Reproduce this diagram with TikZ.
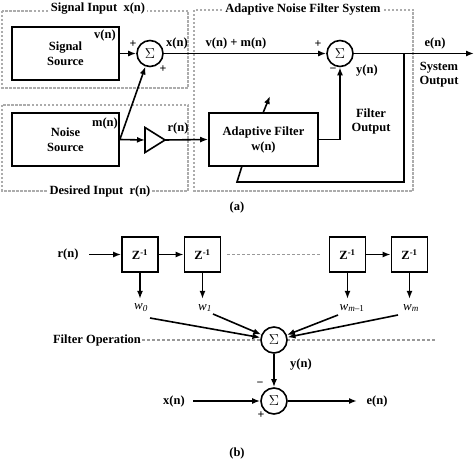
\documentclass[tikz,border=0pt]{standalone}
\usepackage{fontspec}
\setmainfont{Liberation Serif}
\usetikzlibrary{arrows.meta}
\begin{document}
\begin{tikzpicture}[x=1pt,y=-1pt,
  lbl/.style={font=\bfseries\fontsize{12.5}{14}\selectfont, inner sep=1pt, align=center},
  sgn/.style={font=\bfseries\fontsize{12}{12}\selectfont, inner sep=0pt},
  blk/.style={draw, line width=1.7pt, font=\bfseries\fontsize{12.5}{15}\selectfont, align=center, inner sep=0pt},
  sumnode/.style={circle, draw, fill=white, line width=1.6pt, minimum size=26pt, inner sep=0pt, font=\fontsize{15}{15}\selectfont},
  grp/.style={draw=gray!65, dash pattern=on 2.5pt off 1.5pt, line width=1.1pt},
  grplbl/.style={lbl, fill=white, inner xsep=2pt},
  conn/.style={line width=1.6pt},
  arr/.style={conn, -{Latex[length=8pt,width=6pt]}},
  wl/.style={font=\itshape\fontsize{13}{14}\selectfont, inner sep=1pt},
]
\useasboundingbox (0,0) rectangle (474,462);

% ---------- (a) ----------
\draw[grp] (2,11) rectangle (188,88);
\draw[grp] (2,105) rectangle (188,191);
\draw[grp] (194,10) rectangle (413,191);
\node[grplbl] (tsig) at (98,9) {Signal Input~ x(n)};
\node[grplbl] (tdes) at (100,191) {Desired Input~ r(n)};
\node[grplbl] (tanf) at (303,10) {Adaptive Noise Filter System};

\node[blk, minimum width=107pt, minimum height=53pt] (sig) at (65.5,53.5) {Signal\\Source};
\node[blk, minimum width=107pt, minimum height=53pt] (noi) at (65.5,139.5) {Noise\\Source};
\node[blk, minimum width=109pt, minimum height=53pt] (filt) at (263.5,139.5) {Adaptive Filter\\w(n)};

\node[lbl] (vn) at (105,35) {v(n)};
\node[lbl] (mn) at (105,123) {m(n)};

\node[sumnode] (s1) at (150,53.5) {$\Sigma$};
\node[sumnode] (s2) at (340,53.5) {$\Sigma$};

\node[sgn] (p1) at (133,44) {+};
\node[sgn] (p2) at (163,69) {+};
\node[sgn] (p3) at (318,44) {+};
\node[sgn] (m1) at (333,70) {−};

\node[lbl] (xn) at (177,43) {x(n)};
\node[lbl] (vm) at (236,43) {v(n) + m(n)};
\node[lbl] (rn) at (178,128) {r(n)};
\node[lbl] (yn) at (367,71) {y(n)};
\node[lbl] (en) at (435,43) {e(n)};
\node[lbl] (so) at (439,75) {System\\Output};
\node[lbl] (fo) at (371,121) {Filter\\Output};

% triangle amplifier
\coordinate (triin) at (145,140);
\coordinate (triout) at (165,140);
\draw[line width=1.6pt, line join=miter] (145,127.5) -- (triout) -- (145,152.5) -- cycle;

\draw[arr] (sig.east |- s1) -- (s1);
\draw[arr] (noi.east) -- (s1);
\draw[arr] (noi.east) -- (triin);
\draw[arr] (triout) -- (filt.west);
\draw[arr] (s1) -- (s2);
\draw[arr] (filt.east) -| (s2);
\coordinate (outend) at (474,53.5);
\draw[arr] (s2) -- (outend);
\coordinate (fbtop) at (404,53.5);
\coordinate (fbc1) at (404,182);
\coordinate (fbc2) at (237,182);
\coordinate (fbin) at (242,166);
\draw[conn] (fbtop) -- (fbc1) -- (fbc2) -- (fbin);
\coordinate (adst) at (263,113);
\coordinate (aden) at (270,96);
\draw[arr] (adst) -- (aden);

\node[lbl] (cap1) at (237,207) {(a)};

% ---------- (b) ----------
\tikzset{zb/.style={blk, minimum width=36pt, minimum height=35pt}}
\node[zb] (z1) at (140,254.5) {Z\textsuperscript{-1}};
\node[zb] (z2) at (202.5,254.5) {Z\textsuperscript{-1}};
\node[zb] (z3) at (347.5,254.5) {Z\textsuperscript{-1}};
\node[zb] (z4) at (409.5,254.5) {Z\textsuperscript{-1}};

\node[lbl] (rin) at (68,254) {r(n)};
\coordinate (rst) at (89,254.5);
\draw[arr] (rst) -- (z1.west);
\draw[arr] (z1) -- (z2);
\draw[arr] (z3) -- (z4);
\draw[gray!80, dash pattern=on 3pt off 2pt, line width=1.1pt] ([xshift=6pt]z2.east) -- ([xshift=-7pt]z3.west);

\foreach \z in {z1,z2,z3,z4} \draw[arr] (\z.south) -- ++(0,26);

\node[wl] (w0) at (141,308) {w\textsubscript{0}};
\node[wl] (w1) at (205,308) {w\textsubscript{1}};
\node[wl] (wm1) at (352,308) {w\textsubscript{m\textup{–1}}};
\node[wl] (wm) at (411,308) {w\textsubscript{m}};

\node[lbl] (fop) at (97,340) {Filter Operation};
\coordinate (foend) at (435,340);
\draw[gray!80, dash pattern=on 3pt off 2pt, line width=1.1pt] (fop.east) -- (foend);

\node[sumnode] (s3) at (274,340) {$\Sigma$};
\node[sumnode] (s4) at (274,401) {$\Sigma$};

\coordinate (a0) at (150,318);
\coordinate (a1) at (213,314);
\coordinate (a2) at (338,315);
\coordinate (a3) at (398,315);
\draw[arr] (a0) -- (s3);
\draw[arr] (a1) -- (s3);
\draw[arr] (a2) -- (s3);
\draw[arr] (a3) -- (s3);

\draw[arr] (s3) -- (s4);
\node[lbl] (ybn) at (301,365) {y(n)};
\node[sgn] (m2) at (260,384) {−};
\node[sgn] (p4) at (261,415) {+};
\node[lbl] (xbn) at (174,401) {x(n)};
\coordinate (xst) at (193,401);
\draw[arr] (xst) -- (s4);
\coordinate (eend) at (357,401);
\draw[arr] (s4) -- (eend);
\node[lbl] (ebn) at (377,401) {e(n)};

\node[lbl] (cap2) at (237,453) {(b)};
\end{tikzpicture}
\end{document}
